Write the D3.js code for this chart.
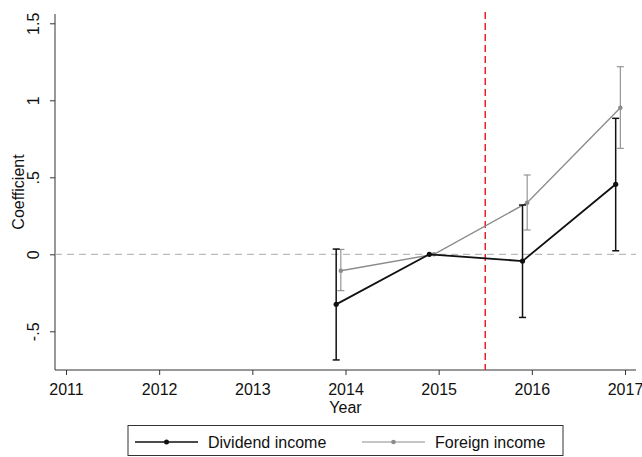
<!DOCTYPE html>
<html><head><meta charset="utf-8">
<script src="https://cdn.jsdelivr.net/npm/d3@7"></script>
<style>body{margin:0;background:#fff}svg{display:block}text{font-family:"Liberation Sans",Arial,sans-serif;fill:#111}</style>
</head><body><svg id="c" width="642" height="457"></svg>
<script>
const years = [2014, 2015, 2016, 2017];
const dividendCoef = [-0.325, 0, -0.044, 0.455];
const dividendLo = [-0.686, 0, -0.41, 0.023];
const dividendHi = [0.034, 0, 0.32, 0.883];
const foreignCoef = [-0.107, 0, 0.335, 0.952];
const foreignLo = [-0.236, 0, 0.158, 0.688];
const foreignHi = [0.032, 0, 0.515, 1.218];
const xTicks = [2011, 2012, 2013, 2014, 2015, 2016, 2017];
const yTicks = [-0.5, 0, 0.5, 1, 1.5];
const yTickLabels = ["-.5", "0", ".5", "1", "1.5"];
const treatmentYear = 2015.5;

const svg = d3.select("#c");
const pLeft = 55, pRight = 636, pTop = 14, pBottom = 370;
const x = d3.scaleLinear().domain([2011, 2017]).range([66, 625]);
const y = d3.scaleLinear().domain([0, 1.5]).range([254.3, 23.3]);

// axes
const yAxis = svg.append("g").attr("transform", `translate(${pLeft},0)`)
  .call(d3.axisLeft(y).tickValues(yTicks).tickFormat((d,i)=>yTickLabels[i]).tickSize(5).tickSizeOuter(0));
yAxis.select(".domain").remove();
svg.append("line").attr("x1",pLeft).attr("x2",pLeft).attr("y1",pTop).attr("y2",pBottom).attr("stroke","#333");
yAxis.selectAll(".tick line").attr("stroke","#333");
yAxis.selectAll(".tick text").attr("font-size",16).attr("transform","rotate(-90)")
  .attr("x",0).attr("y",-16.5).attr("dy","0").attr("text-anchor","middle");

const xAxis = svg.append("g").attr("transform", `translate(0,${pBottom})`)
  .call(d3.axisBottom(x).tickValues(xTicks).tickFormat(d3.format("d")).tickSize(5).tickSizeOuter(0));
xAxis.select(".domain").remove();
svg.append("line").attr("x1",pLeft).attr("x2",pRight).attr("y1",pBottom).attr("y2",pBottom).attr("stroke","#333");
xAxis.selectAll(".tick line").attr("stroke","#333");
xAxis.selectAll(".tick text").attr("font-size",16).attr("y",25).attr("dy","0");

svg.append("text").attr("x",(pLeft+pRight)/2).attr("y",413).attr("text-anchor","middle").attr("font-size",16).text("Year");
svg.append("text").attr("transform",`translate(24,${(pTop+pBottom)/2}) rotate(-90)`).attr("text-anchor","middle").attr("font-size",16).text("Coefficient");

// zero line
svg.append("line").attr("x1",pLeft).attr("x2",pRight).attr("y1",y(0)).attr("y2",y(0))
  .attr("stroke","#aaa").attr("stroke-width",1).attr("stroke-dasharray","7,5");

// treatment line
svg.append("line").attr("x1",x(treatmentYear)).attr("x2",x(treatmentYear)).attr("y1",12).attr("y2",pBottom)
  .attr("stroke","#e8202a").attr("stroke-width",1.5).attr("stroke-dasharray","7,4");

function series(coef, lo, hi, offset, color, w, r) {
  const pts = years.map((yr,i)=>({x:x(yr+offset), c:y(coef[i]), lo:y(lo[i]), hi:y(hi[i])}));
  const g = svg.append("g");
  pts.forEach(p=>{
    if (Math.abs(p.lo-p.hi) < 0.5) return;
    g.append("line").attr("x1",p.x).attr("x2",p.x).attr("y1",p.lo).attr("y2",p.hi).attr("stroke",color).attr("stroke-width",w);
    [p.lo,p.hi].forEach(v=>g.append("line").attr("x1",p.x-3.5).attr("x2",p.x+3.5).attr("y1",v).attr("y2",v).attr("stroke",color).attr("stroke-width",w));
  });
  g.append("path").attr("d", d3.line().x(p=>p.x).y(p=>p.c)(pts)).attr("fill","none").attr("stroke",color).attr("stroke-width",w+0.3);
  pts.forEach(p=>g.append("circle").attr("cx",p.x).attr("cy",p.c).attr("r",r).attr("fill",color));
}
series(foreignCoef, foreignLo, foreignHi, -0.05, "#8c8c8c", 1.1, 2.3);
series(dividendCoef, dividendLo, dividendHi, -0.1, "#111", 1.5, 2.6);

// legend
svg.append("rect").attr("x",128).attr("y",425.5).attr("width",435).attr("height",30).attr("fill","#fff").attr("stroke","#333").attr("stroke-width",1);
const leg = [{label:"Dividend income", color:"#111", w:1.6, r:2.5, x0:135}, {label:"Foreign income", color:"#8c8c8c", w:1.1, r:2.3, x0:362}];
leg.forEach(l=>{
  svg.append("line").attr("x1",l.x0).attr("x2",l.x0+63).attr("y1",442).attr("y2",442).attr("stroke",l.color).attr("stroke-width",l.w);
  svg.append("circle").attr("cx",l.x0+31.5).attr("cy",442).attr("r",l.r).attr("fill",l.color);
  svg.append("text").attr("x",l.x0+73).attr("y",448).attr("font-size",16).text(l.label);
});
</script></body></html>
